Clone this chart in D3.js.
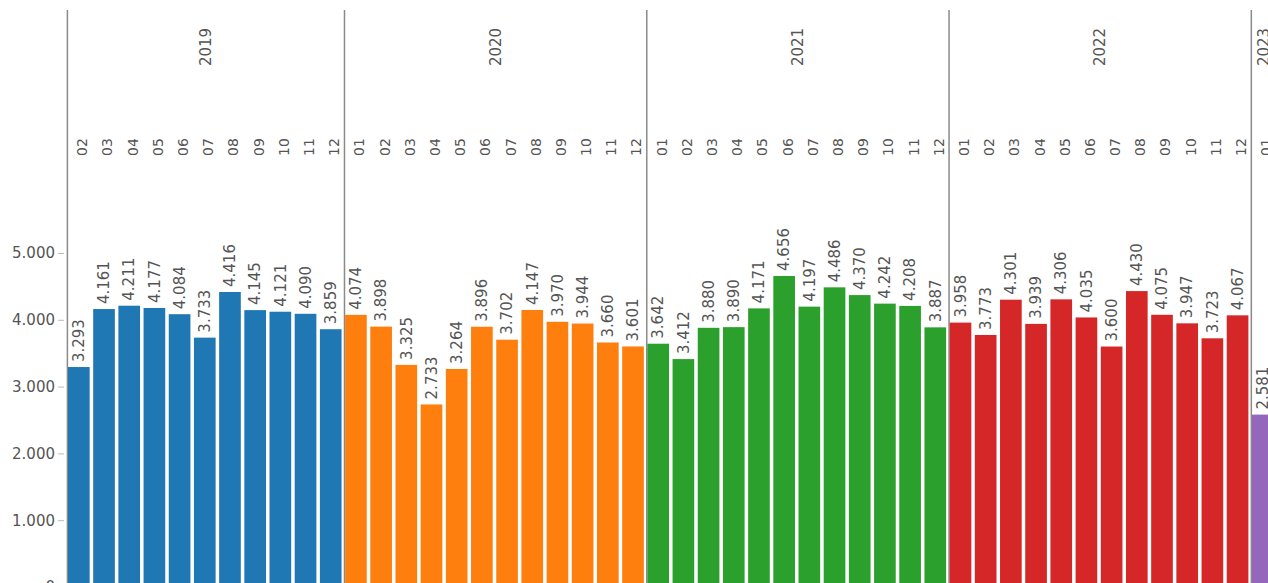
<!DOCTYPE html>
<html>
<head>
<meta charset="utf-8">
<script src="https://cdn.jsdelivr.net/npm/d3@7/dist/d3.min.js"></script>
<style>
  body { margin: 0; background: #fff; overflow: hidden; }
  text { font-family: "DejaVu Sans", Verdana, sans-serif; }
</style>
</head>
<body>
<div id="holder"></div>
<script>
// data
var years = ["2019", "2020", "2021", "2022", "2023"];
var months2019 = ["02", "03", "04", "05", "06", "07", "08", "09", "10", "11", "12"];
var monthsFull = ["01", "02", "03", "04", "05", "06", "07", "08", "09", "10", "11", "12"];
var months2023 = ["01"];
var values2019 = [3293, 4161, 4211, 4177, 4084, 3733, 4416, 4145, 4121, 4090, 3859];
var values2020 = [4074, 3898, 3325, 2733, 3264, 3896, 3702, 4147, 3970, 3944, 3660, 3601];
var values2021 = [3642, 3412, 3880, 3890, 4171, 4656, 4197, 4486, 4370, 4242, 4208, 3887];
var values2022 = [3958, 3773, 4301, 3939, 4306, 4035, 3600, 4430, 4075, 3947, 3723, 4067];
var values2023 = [2581];
var yTicks = [0, 1000, 2000, 3000, 4000, 5000];
var colors = ["#1f77b4", "#ff7f0e", "#2ca02c", "#d62728", "#9467bd"];

var monthsByYear = [months2019, monthsFull, monthsFull, monthsFull, months2023];
var valuesByYear = [values2019, values2020, values2021, values2022, values2023];

// flatten into one row per month
var rows = [];
years.forEach(function(yr, i) {
  monthsByYear[i].forEach(function(m, j) {
    rows.push({year: yr, month: m, key: yr + "-" + m, value: valuesByYear[i][j], yi: i});
  });
});

var width = 1268, height = 583;

// german number format: 4.161
var de = d3.formatLocale({decimal: ",", thousands: ".", grouping: [3], currency: ["", " €"]});
var fmt = de.format(",d");

var svg = d3.select("#holder")
            .append("svg")
            .attr("width", width)
            .attr("height", height);

// slot scale, bars sit a bit left inside their slot
var x = d3.scaleBand()
          .domain(rows.map(d => d.key))
          .range([67.4, 67.4 + rows.length * 25.19])
          .padding(0);

var y = d3.scaleLinear()
          .domain([0, 5000])
          .range([587, 253]);

var step = x.step();
var barW = step * 0.86;

// year separators
var firstKeys = years.map(function(yr) { return rows.find(d => d.year === yr).key; });
svg.append("g")
   .selectAll("line")
   .data(firstKeys)
   .enter()
   .append("line")
   .attr("x1", d => x(d))
   .attr("x2", d => x(d))
   .attr("y1", 10)
   .attr("y2", y(0))
   .attr("stroke", "#8a8a8a")
   .attr("stroke-width", 1.5);

// bars
svg.append("g")
   .selectAll("rect")
   .data(rows)
   .enter()
   .append("rect")
   .attr("x", d => x(d.key) + 0.6)
   .attr("width", barW)
   .attr("y", d => y(d.value))
   .attr("height", d => y(0) - y(d.value))
   .attr("fill", d => colors[d.yi]);

// value labels, rotated
svg.append("g")
   .selectAll("text")
   .data(rows)
   .enter()
   .append("text")
   .attr("transform", d => "translate(" + (x(d.key) + 0.6 + barW / 2) + "," + (y(d.value) - 5) + ") rotate(-90)")
   .attr("dy", "0.35em")
   .attr("text-anchor", "start")
   .attr("fill", "#555")
   .style("font-size", "15px")
   .text(d => fmt(d.value));

// month labels
svg.append("g")
   .selectAll("text")
   .data(rows)
   .enter()
   .append("text")
   .attr("transform", d => "translate(" + (x(d.key) + 15) + ",147) rotate(-90)")
   .attr("dy", "0.35em")
   .attr("text-anchor", "middle")
   .attr("fill", "#555")
   .style("font-size", "14px")
   .text(d => d.month);

// year labels, centred over each year's months
svg.append("g")
   .selectAll("text")
   .data(years)
   .enter()
   .append("text")
   .attr("transform", function(yr) {
     var ks = rows.filter(d => d.year === yr);
     var cx = (x(ks[0].key) + x(ks[ks.length - 1].key) + step) / 2;
     return "translate(" + cx + ",47) rotate(-90)";
   })
   .attr("dy", "0.35em")
   .attr("text-anchor", "middle")
   .attr("fill", "#555")
   .style("font-size", "15px")
   .text(d => d);

// y axis
var yAxis = svg.append("g")
   .attr("transform", "translate(64,0)")
   .call(d3.axisLeft(y).tickValues(yTicks).tickSize(6).tickPadding(3).tickFormat(fmt));
yAxis.select(".domain").remove();
yAxis.selectAll(".tick line").attr("stroke", "#bbb");
yAxis.selectAll(".tick text")
     .attr("fill", "#555")
     .style("font-size", "15px")
     .style("font-family", "'DejaVu Sans', Verdana, sans-serif");
</script>
</body>
</html>
